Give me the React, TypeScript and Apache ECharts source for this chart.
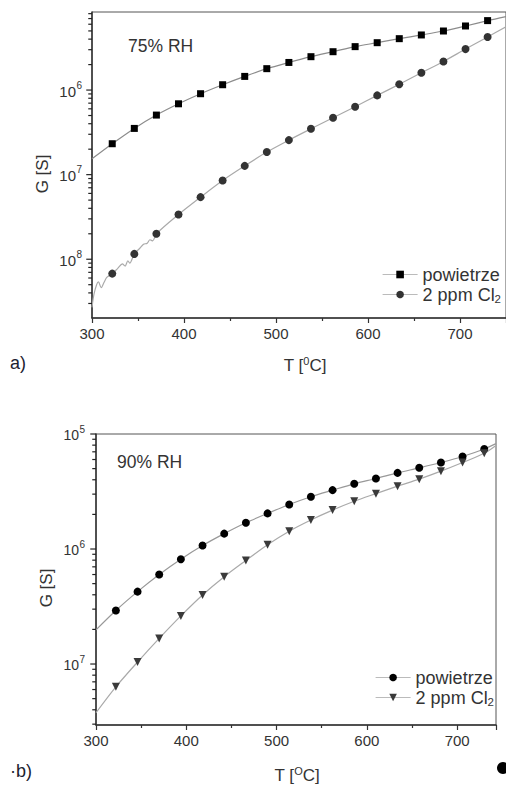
import React, { useEffect, useRef } from 'react';
import * as echarts from 'echarts';

const FONT = "'Liberation Sans', Arial, Helvetica, sans-serif";
const TXT = '#333';

// Temperatures [°C] at which markers are drawn (both panels)
const tempMarkers = [322, 346, 370, 394, 418, 442, 466, 490, 514, 538, 562, 586, 610, 634, 658, 682, 706, 730];

// Panel a) 75% RH
const airA = [2.32e-7, 3.52e-7, 5.06e-7, 6.88e-7, 9.05e-7, 1.156e-6, 1.45e-6, 1.79e-6, 2.12e-6, 2.48e-6, 2.84e-6, 3.26e-6, 3.63e-6, 4.05e-6, 4.48e-6, 4.99e-6, 5.72e-6, 6.62e-6];
const airATraceT = [300, 750];
const airATraceG = [1.54e-7, 7.4e-6];
const clA = [6.76e-9, 1.156e-8, 2.0e-8, 3.38e-8, 5.42e-8, 8.53e-8, 1.27e-7, 1.85e-7, 2.56e-7, 3.48e-7, 4.71e-7, 6.35e-7, 8.65e-7, 1.17e-6, 1.6e-6, 2.18e-6, 3.05e-6, 4.24e-6];
const clATraceT = [300, 302, 305, 307, 310, 313, 316, 328, 333, 336, 339, 341, 352, 356, 360, 363, 366, 750];
const clATraceG = [2.7e-9, 3.8e-9, 5.0e-9, 5.4e-9, 4.6e-9, 5.3e-9, 6.1e-9, 7.8e-9, 8.8e-9, 8.3e-9, 9.6e-9, 9.0e-9, 1.35e-8, 1.5e-8, 1.55e-8, 1.7e-8, 1.65e-8, 5.6e-6];

// Panel b) 90% RH
const airB = [2.92e-7, 4.26e-7, 6.01e-7, 8.16e-7, 1.072e-6, 1.36e-6, 1.69e-6, 2.04e-6, 2.44e-6, 2.85e-6, 3.25e-6, 3.69e-6, 4.1e-6, 4.59e-6, 5.08e-6, 5.65e-6, 6.37e-6, 7.41e-6];
const airBTraceT = [300, 743];
const airBTraceG = [1.98e-7, 8.25e-6];
const clB = [6.33e-8, 1.04e-7, 1.67e-7, 2.62e-7, 3.98e-7, 5.74e-7, 7.95e-7, 1.09e-6, 1.43e-6, 1.79e-6, 2.18e-6, 2.6e-6, 3.03e-6, 3.52e-6, 4.05e-6, 4.75e-6, 5.65e-6, 6.8e-6];
const clBTraceT = [300, 743];
const clBTraceG = [3.77e-8, 7.95e-6];

// Axes
const xTicks = [300, 400, 500, 600, 700];
const yRangeA = [2.02e-9, 8.37e-6];
const yRangeB = [2.95e-8, 1e-5];
const yMajorA = [1e-8, 1e-7, 1e-6];
const yExpA = ['8', '7', '6'];
const yMajorB = [1e-7, 1e-6, 1e-5];
const yExpB = ['7', '6', '5'];

const legendNames: Record<string, string> = {
  airA: 'powietrze',
  clA: '2 ppm Cl{sub|2}',
  airB: 'powietrze',
  clB: '2 ppm Cl{sub|2}',
};

function buildData(markT: number[], markG: number[], traceT: number[], traceG: number[]) {
  const pts: any[] = markT.map((t, i) => ({ value: [t, markG[i]] }));
  traceT.forEach((t, i) => pts.push({ value: [t, traceG[i]], symbol: 'none' }));
  pts.sort((a, b) => a.value[0] - b.value[0]);
  return pts;
}

function minorTicks(min: number, max: number) {
  const out: number[] = [];
  for (let e = -10; e <= -4; e++) {
    for (let k = 2; k <= 9; k++) {
      const v = k * Math.pow(10, e);
      if (v >= min && v <= max) out.push(v);
    }
  }
  return out;
}

function yTickSeries(idx: number, majors: number[], exps: string[], range: number[], labelSize: number, gap: number) {
  const data: number[][] = [];
  majors.forEach((v, i) => data.push([300, v, 1, i]));
  minorTicks(range[0], range[1]).forEach((v) => data.push([300, v, 0, 0]));
  return {
    type: 'custom',
    xAxisIndex: idx,
    yAxisIndex: idx,
    clip: false,
    z: 10,
    data,
    renderItem: (params: any, api: any) => {
      const p = api.coord([api.value(0), api.value(1)]);
      const major = api.value(2) === 1;
      const len = major ? 5 : 3;
      const children: any[] = [
        { type: 'line', shape: { x1: p[0] - len - 0.75, y1: p[1], x2: p[0], y2: p[1] }, style: { stroke: '#222', lineWidth: 1.2 } },
      ];
      if (major) {
        const exp = exps[api.value(3)];
        children.push({
          type: 'text', x: p[0] - gap, y: p[1] + 1,
          style: { text: '10', align: 'right', verticalAlign: 'middle', fontSize: labelSize, fontFamily: FONT, fill: TXT },
        });
        children.push({
          type: 'text', x: p[0] - gap + 0.5, y: p[1] - 5,
          style: { text: exp, align: 'left', verticalAlign: 'middle', fontSize: 10, fontFamily: FONT, fill: TXT },
        });
      }
      return { type: 'group', children };
    },
  };
}

function xAxisCfg(gridIndex: number, max: number) {
  return {
    type: 'value', gridIndex, min: 300, max, interval: 100,
    axisLine: { show: true, onZero: false, lineStyle: { color: '#333', width: 1.5 } },
    axisTick: { show: true, length: 5, lineStyle: { color: '#333', width: 1.2 } },
    minorTick: { show: true, splitNumber: 2, length: 3, lineStyle: { color: '#333', width: 1.2 } },
    axisLabel: {
      fontSize: 15, color: TXT, margin: 8, fontFamily: FONT, showMaxLabel: false, showMinLabel: true,
      formatter: (v: number) => (xTicks.indexOf(v) >= 0 ? String(v) : ''),
    },
    splitLine: { show: false },
  };
}

function yAxisCfg(gridIndex: number, range: number[]) {
  return {
    type: 'log', logBase: 10, gridIndex, min: range[0], max: range[1],
    axisLine: { show: true, onZero: false, lineStyle: { color: '#333', width: 1.5 } },
    axisTick: { show: false },
    axisLabel: { show: false },
    splitLine: { show: false },
  };
}

function lineSeries(name: string, idx: number, data: any[], symbol: string, size: number, lineColor: string, color: string, rotate = 0) {
  return {
    type: 'line', name, xAxisIndex: idx, yAxisIndex: idx, data, symbol, symbolSize: size, symbolRotate: rotate,
    showAllSymbol: true, smooth: 0.3, z: 3,
    lineStyle: { color: lineColor, width: 1.2 },
    itemStyle: { color },
    emphasis: { disabled: true },
  };
}

function legendCfg(left: number, top: number, data: string[]) {
  return {
    left, top, orient: 'vertical', data, itemWidth: 35, itemHeight: 9.5, itemGap: 1, selectedMode: false,
    formatter: (n: string) => legendNames[n],
    lineStyle: { color: '#bbbbbb', width: 1.2 },
    textStyle: {
      fontSize: 18, color: TXT, fontFamily: FONT, lineHeight: 19,
      rich: { sub: { fontSize: 11.5, fontFamily: FONT, color: TXT, padding: [9, 0, 0, 0] } },
    },
  };
}

function supText(x: number, y: number, base1: string, sup: string, base2: string) {
  return {
    type: 'text', x, y,
    style: {
      text: `{n|${base1}}{s|${sup}}{n|${base2}}`,
      align: 'center', verticalAlign: 'middle',
      rich: {
        n: { fontSize: 17, fontFamily: FONT, fill: TXT, color: TXT, lineHeight: 20 },
        s: { fontSize: 11, fontFamily: FONT, fill: TXT, color: TXT, verticalAlign: 'top', lineHeight: 20, padding: [0, 0, 8, 0] },
      },
    },
  };
}

export default function App() {
  const ref = useRef<HTMLDivElement>(null);
  useEffect(() => {
    if (!ref.current) return;
    const chart = echarts.init(ref.current, undefined, { renderer: 'svg' });
    const option: any = {
      animation: false,
      backgroundColor: '#fff',
      grid: [
        { left: 92, top: 12, width: 419, height: 306, show: true, borderColor: '#555', borderWidth: 1, backgroundColor: 'transparent' },
        { left: 96, top: 434, width: 400, height: 291, show: true, borderColor: '#555', borderWidth: 1, backgroundColor: 'transparent' },
      ],
      xAxis: [xAxisCfg(0, 750), xAxisCfg(1, 743)],
      yAxis: [yAxisCfg(0, yRangeA), yAxisCfg(1, yRangeB)],
      legend: [legendCfg(377, 260, ['airA', 'clA']), legendCfg(370, 663, ['airB', 'clB'])],
      series: [
        lineSeries('airA', 0, buildData(tempMarkers, airA, airATraceT, airATraceG), 'rect', 7, '#8c8c8c', '#000'),
        lineSeries('clA', 0, buildData(tempMarkers, clA, clATraceT, clATraceG), 'circle', 8, '#aaaaaa', '#333'),
        lineSeries('airB', 1, buildData(tempMarkers, airB, airBTraceT, airBTraceG), 'circle', 8, '#999999', '#000'),
        lineSeries('clB', 1, buildData(tempMarkers, clB, clBTraceT, clBTraceG), 'triangle', 8, '#aaaaaa', '#3a3a3a', 180),
        yTickSeries(0, yMajorA, yExpA, yRangeA, 15, 16),
        yTickSeries(1, yMajorB, yExpB, yRangeB, 14, 17),
      ],
      graphic: [
        { type: 'text', x: 128, y: 46, style: { text: '75% RH', fontSize: 17.5, fontFamily: FONT, fill: TXT, verticalAlign: 'middle' } },
        { type: 'text', x: 117, y: 462, style: { text: '90% RH', fontSize: 17.5, fontFamily: FONT, fill: TXT, verticalAlign: 'middle' } },
        { type: 'text', x: 10, y: 363, style: { text: 'a)', fontSize: 18, fontFamily: FONT, fill: '#1c2230', verticalAlign: 'middle' } },
        { type: 'text', x: 10, y: 771, style: { text: '·b)', fontSize: 18, fontFamily: FONT, fill: '#1c2230', verticalAlign: 'middle' } },
        { type: 'text', x: 42, y: 174, rotation: Math.PI / 2, style: { text: 'G [S]', fontSize: 17, fontFamily: FONT, fill: TXT, align: 'center', verticalAlign: 'middle' } },
        { type: 'text', x: 46, y: 588, rotation: Math.PI / 2, style: { text: 'G [S]', fontSize: 17, fontFamily: FONT, fill: TXT, align: 'center', verticalAlign: 'middle' } },
        supText(305, 365, 'T [', '0', 'C]'),
        supText(297, 775, 'T [', 'O', 'C]'),
        { type: 'circle', shape: { cx: 503, cy: 768, r: 6 }, style: { fill: '#000' } },
      ],
    };
    chart.setOption(option);
    return () => chart.dispose();
  }, []);
  return <div ref={ref} style={{ position: 'absolute', left: 0, top: 0, width: 506, height: 786 }} />;
}
